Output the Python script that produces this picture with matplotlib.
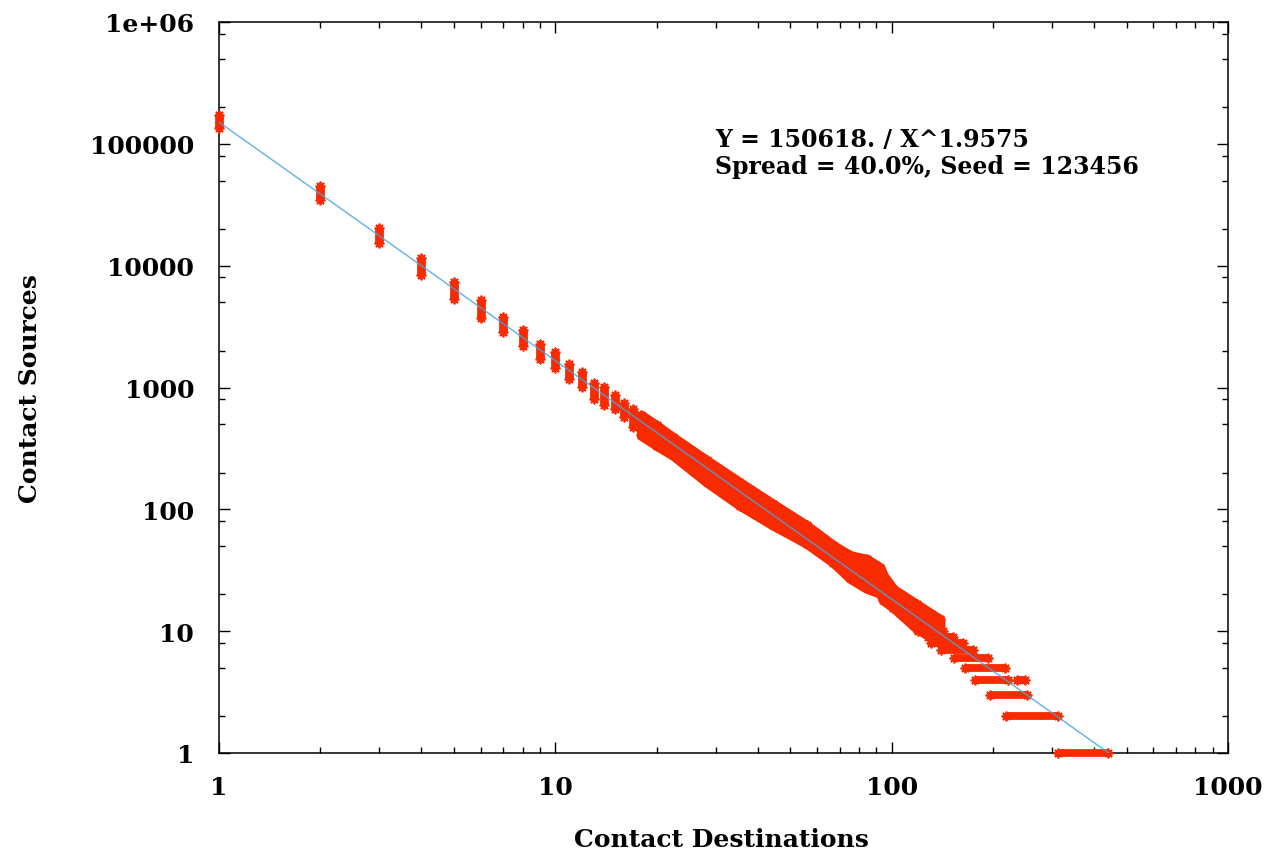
import matplotlib
matplotlib.use("Agg")
import matplotlib.pyplot as plt
from matplotlib.ticker import FixedLocator, FixedFormatter, NullFormatter

# fitted power law shown in the annotation
A_FIT = 150618.0
B_FIT = 1.9575

# separate clusters at small destination counts: (x, lowest y, highest y)
bar_x = [1, 2, 3, 4, 5, 6, 7, 8, 9, 10, 11, 12, 13, 14, 15, 16, 17]
bar_lo = [135000, 34300, 15400, 8400, 5350, 3700, 2840, 2210, 1720, 1450,
          1165, 1005, 808, 712, 660, 571, 472]
bar_hi = [172000, 45300, 20200, 11500, 7280, 5250, 3810, 2950, 2270, 1960,
          1560, 1345, 1090, 1015, 860, 743, 664]

# dense middle part: envelope of the cloud
band_x = [18.0, 20.0, 22.4, 28.2, 35.4, 44.5, 55.9, 67.1, 75.2, 84.3, 92.4,
          94.5, 101.2, 118.7, 139.3]
band_lo = [404, 334, 277, 167, 107.5, 73.7, 52.4, 36.6, 27.1, 22.4, 20.4,
           17.9, 15.6, 10.5, 8.1]
band_hi = [593, 488, 389, 252, 166, 110, 73.7, 50.5, 41.8, 39.0, 33.3,
           28.6, 22.1, 16.6, 12.5]

# flat runs at small source counts: (y, first x, last x)
row_y = [10, 9, 8, 7, 6, 5, 4, 4, 3, 2, 1]
row_x0 = [120, 128, 131, 140, 153, 165, 177, 236, 196, 219, 312]
row_x1 = [142, 152, 163, 175, 194, 217, 222, 249, 253, 312, 440]

x_ticks = [1, 10, 100, 1000]
x_tick_labels = ["1", "10", "100", "1000"]
y_ticks = [1, 10, 100, 1000, 10000, 100000, 1000000]
y_tick_labels = ["1", "10", "100", "1000", "10000", "100000", "1e+06"]

RED = "#f82a00"
BLUE = "#4aa3e0"
AST = (8, 2, 0)   # gnuplot style asterisk: + and x together

plt.rcParams.update({
    "font.family": ["DejaVu Serif"],
    "font.weight": "bold",
    "axes.labelweight": "bold",
    "font.size": 18,
    "axes.linewidth": 1.1,
})

fig = plt.figure(figsize=(12.68, 8.54), dpi=100)
ax = fig.add_axes([219 / 1268, 1 - 754 / 854, 1009 / 1268, 731 / 854])
ax.set_xscale("log")
ax.set_yscale("log")
ax.set_xlim(1, 1000)
ax.set_ylim(1, 1e6)

mk = dict(ls="none", marker=AST, ms=7.0, mew=1.3, color=RED, clip_on=False, zorder=3)

for x, lo, hi in zip(bar_x, bar_lo, bar_hi):
    ax.plot([x, x], [lo, hi], color=RED, lw=6.3, solid_capstyle="butt",
            clip_on=False, zorder=3)
    ax.plot([x, x], [lo, hi], **mk)

ax.fill_between(band_x, band_lo, band_hi, facecolor=RED, edgecolor=RED,
                lw=7.0, zorder=3)
ax.plot(band_x, band_lo, **mk)
ax.plot(band_x, band_hi, **mk)

for y, x0, x1 in zip(row_y, row_x0, row_x1):
    ax.plot([x0, x1], [y, y], color=RED, lw=5.6, solid_capstyle="butt",
            clip_on=False, zorder=3)
    ax.plot([x0, x1], [y, y], **mk)

# fit line from x = 1 down to where it reaches y = 1
x_end = A_FIT ** (1.0 / B_FIT)
ax.plot([1, x_end], [A_FIT, A_FIT / x_end ** B_FIT], color=BLUE, lw=1.1,
        alpha=0.8, zorder=4)

ax.xaxis.set_major_locator(FixedLocator(x_ticks))
ax.xaxis.set_major_formatter(FixedFormatter(x_tick_labels))
ax.xaxis.set_minor_locator(FixedLocator([m * d for d in (1, 10, 100) for m in range(2, 10)]))
ax.xaxis.set_minor_formatter(NullFormatter())
ax.yaxis.set_major_locator(FixedLocator(y_ticks))
ax.yaxis.set_major_formatter(FixedFormatter(y_tick_labels))
ax.yaxis.set_minor_locator(FixedLocator([m * 10 ** k for k in range(6) for m in (2, 5, 8)]))
ax.yaxis.set_minor_formatter(NullFormatter())

ax.tick_params(which="both", direction="in", top=True, right=True, width=1.0)
ax.tick_params(which="major", length=8)
ax.tick_params(which="minor", length=4.2)
ax.tick_params(axis="x", which="major", pad=16)
ax.tick_params(axis="y", which="major", pad=18)

ax.set_xlabel("Contact Destinations", fontsize=18, fontweight="bold", va="center")
ax.xaxis.set_label_coords(0.4975, (754 - 840) / 731)
ax.set_ylabel("Contact Sources", fontsize=18, fontweight="bold", va="center")
ax.yaxis.set_label_coords((30 - 219) / 1009, 0.5)

ax.text((715 - 219) / 1009, (754 - 146.7) / 731,
        f"Y = {A_FIT:.0f}. / X^{B_FIT}", transform=ax.transAxes,
        fontsize=17, va="baseline", ha="left")
ax.text((715 - 219) / 1009, (754 - 174.3) / 731,
        "Spread = 40.0%, Seed = 123456", transform=ax.transAxes,
        fontsize=17, va="baseline", ha="left")

fig.savefig("out.png", dpi=100)
